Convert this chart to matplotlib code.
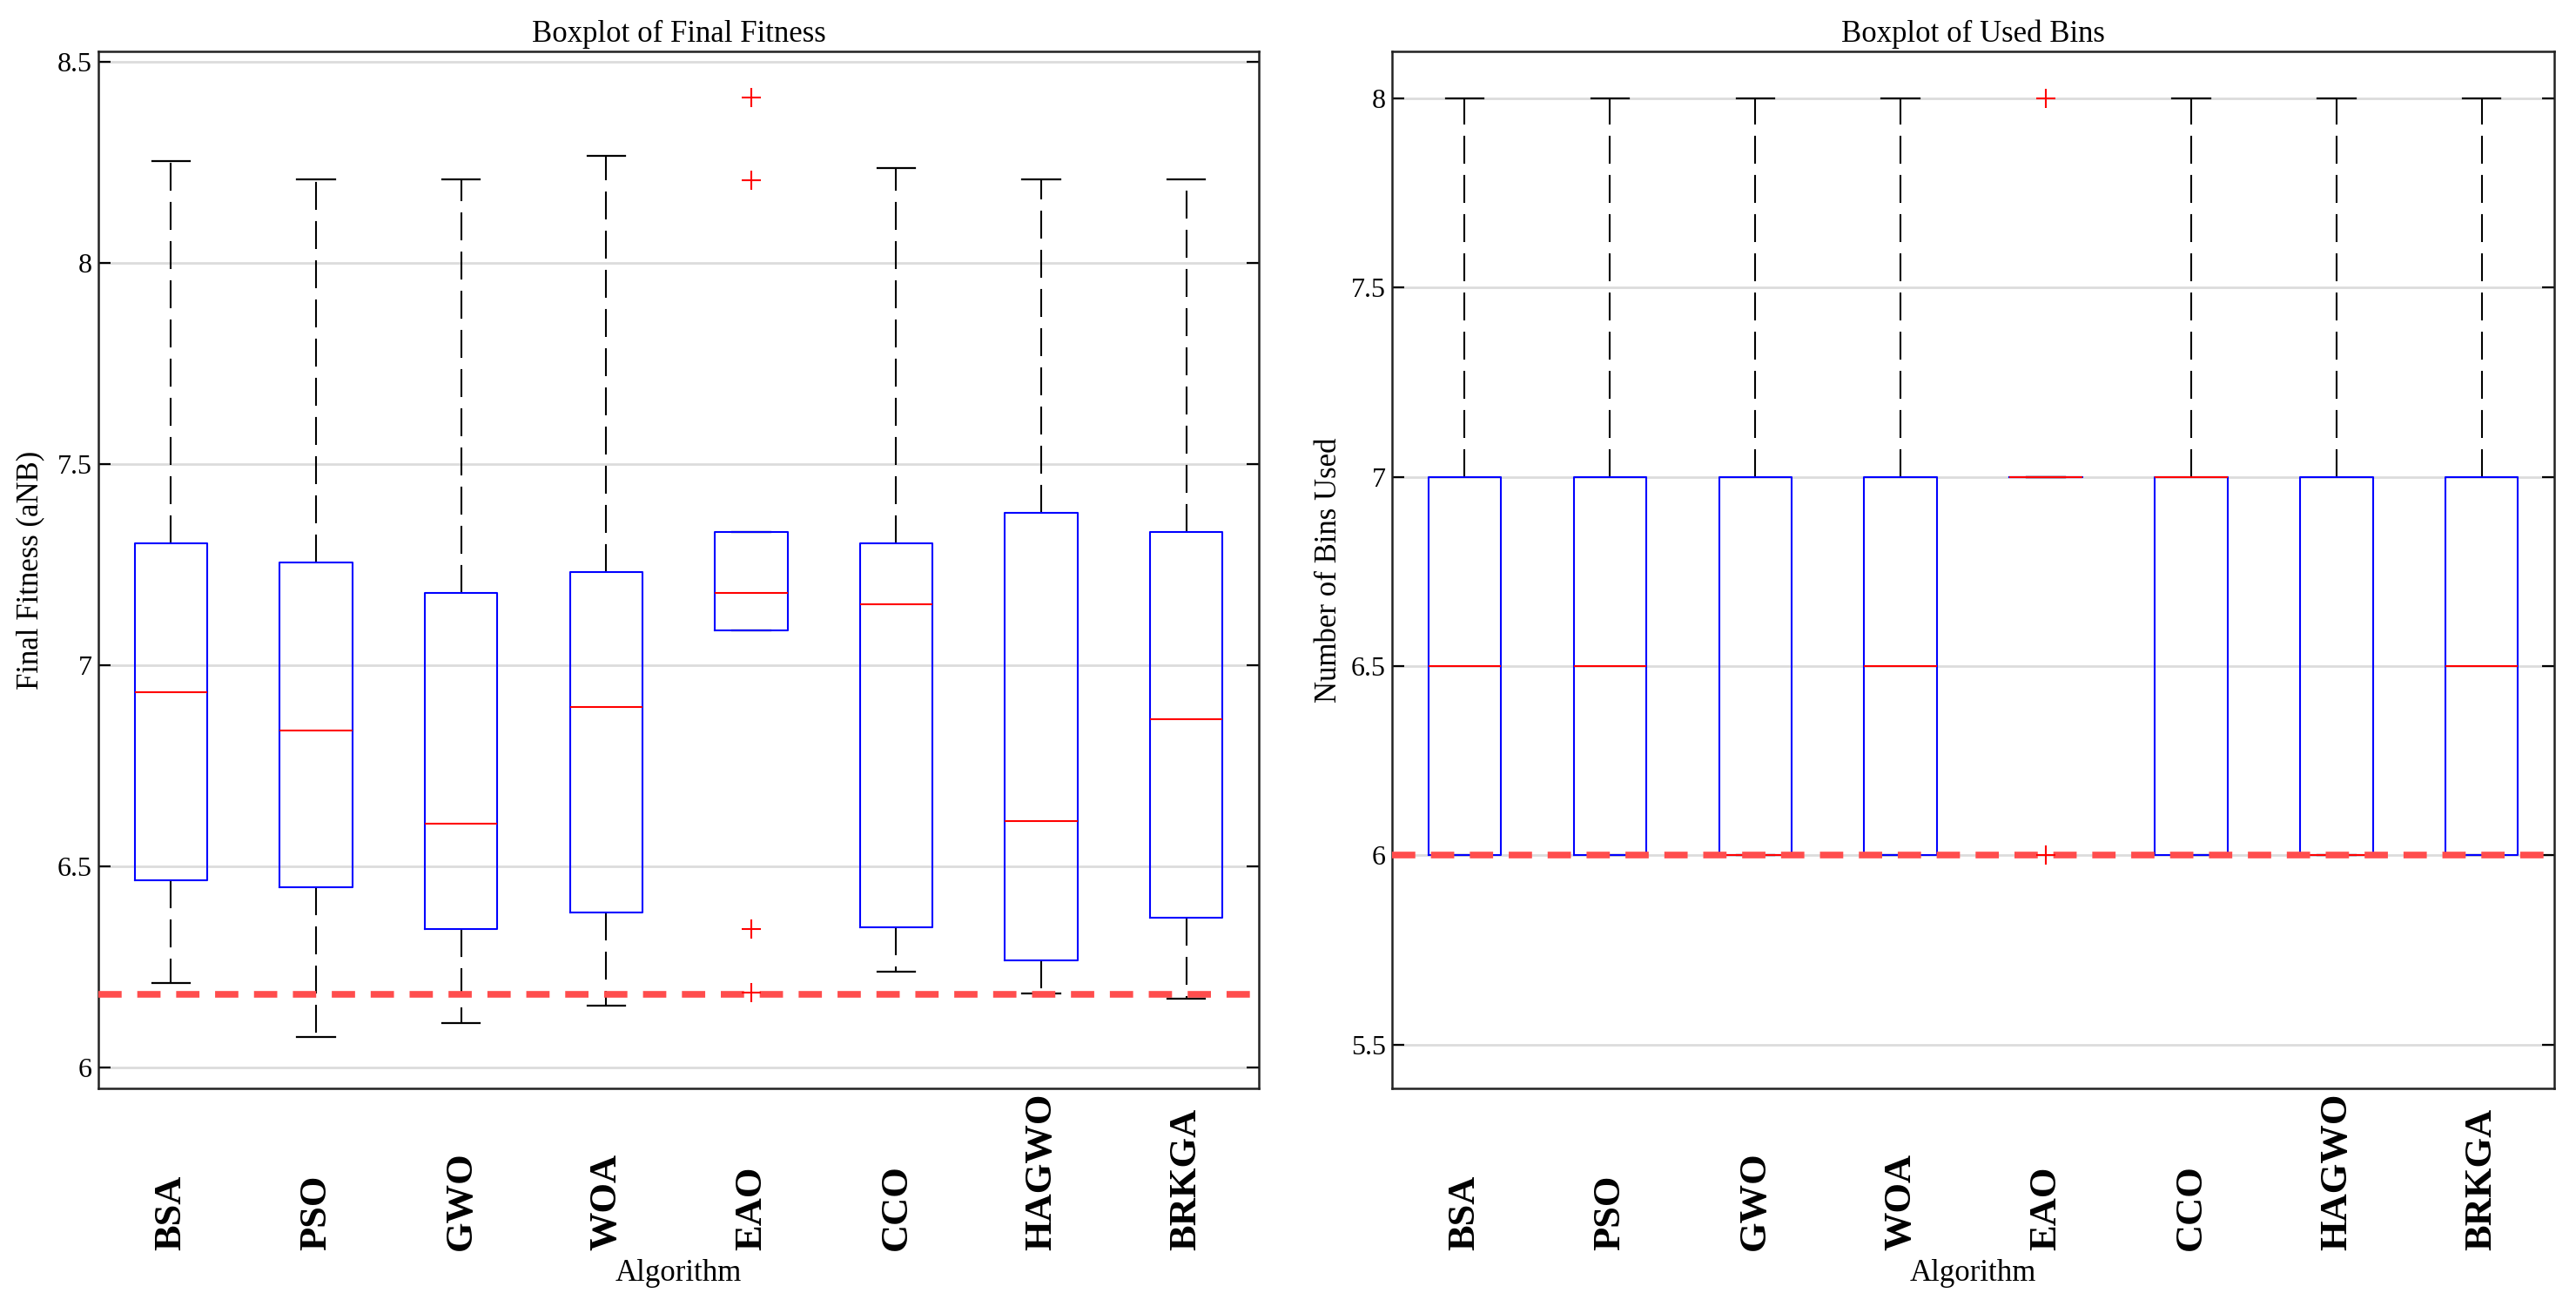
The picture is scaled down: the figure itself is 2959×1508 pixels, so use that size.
import matplotlib.pyplot as plt
from matplotlib.ticker import FixedLocator

plt.rcParams['font.family'] = ['Liberation Serif', 'DejaVu Serif']

algorithms = ['BSA', 'PSO', 'GWO', 'WOA', 'EAO', 'CCO', 'HAGWO', 'BRKGA']

# Final fitness (aNB) box statistics
fit_whislo = [6.21, 6.075, 6.11, 6.152, 7.086, 6.237, 6.183, 6.17]
fit_q1 = [6.465, 6.447, 6.343, 6.384, 7.086, 6.348, 6.265, 6.371]
fit_med = [6.932, 6.837, 6.606, 6.895, 7.18, 7.151, 6.611, 6.865]
fit_q3 = [7.302, 7.255, 7.18, 7.232, 7.331, 7.302, 7.378, 7.331]
fit_whishi = [8.255, 8.209, 8.209, 8.267, 7.331, 8.237, 8.208, 8.208]
fit_fliers = [[], [], [], [], [8.413, 8.207, 6.343, 6.186], [], [], []]
fit_ref = 6.18

# Number of bins used
bins_whislo = [6, 6, 6, 6, 7, 6, 6, 6]
bins_q1 = [6, 6, 6, 6, 7, 6, 6, 6]
bins_med = [6.5, 6.5, 6, 6.5, 7, 7, 6, 6.5]
bins_q3 = [7, 7, 7, 7, 7, 7, 7, 7]
bins_whishi = [8, 8, 8, 8, 7, 8, 8, 8]
bins_fliers = [[], [], [], [], [8, 6], [], [], []]
bins_ref = 6.0


def make_stats(lo, q1, med, q3, hi, fl):
    stats = []
    for i in range(len(algorithms)):
        stats.append({'whislo': lo[i], 'q1': q1[i], 'med': med[i],
                      'q3': q3[i], 'whishi': hi[i], 'fliers': fl[i],
                      'label': algorithms[i]})
    return stats


def draw_panel(ax, stats, ref, ylim, yticks, title, ylabel):
    ax.bxp(stats, positions=range(1, 9), widths=0.5, capwidths=0.26,
           showfliers=True,
           boxprops=dict(color='#0000ff', linewidth=1.5, zorder=3),
           whiskerprops=dict(color='black', linewidth=1.5,
                             linestyle=(0, (15.4, 6.2)), zorder=2),
           capprops=dict(color='black', linewidth=1.6, zorder=2),
           medianprops=dict(color='#ff0000', linewidth=1.5, zorder=4),
           flierprops=dict(marker='+', markeredgecolor='#ff0000',
                           markersize=16, markeredgewidth=1.5,
                           linestyle='none', zorder=6))
    ax.axhline(ref, color='#ff4d4d', linewidth=5.5,
               linestyle=(0, (3.5, 2.35)), zorder=5)
    ax.set_xlim(0.5, 8.5)
    ax.set_ylim(*ylim)
    ax.yaxis.set_major_locator(FixedLocator(yticks))
    ax.set_yticklabels([('%g' % t) for t in yticks], fontsize=23)
    ax.grid(axis='y', color='#dcdcdc', linewidth=2, zorder=0)
    ax.set_axisbelow(True)
    ax.tick_params(axis='y', direction='in', length=10, width=1.6,
                   left=True, right=True, pad=5, colors='black')
    ax.tick_params(axis='x', length=0, pad=134)
    ax.set_xticks(range(1, 9))
    ax.set_xticklabels(algorithms, rotation=90, va='bottom',
                       fontsize=32, fontweight='bold')
    for sp in ax.spines.values():
        sp.set_linewidth(1.8)
        sp.set_color('#222222')
    ax.set_title(title, fontsize=25, pad=8)
    ax.set_xlabel('Algorithm', fontsize=25)
    ax.xaxis.set_label_coords(0.5, -0.165)
    ax.set_ylabel(ylabel, fontsize=25)


fig = plt.figure(figsize=(29.59, 15.08), dpi=100)
ax1 = fig.add_axes([0.0382, 0.1711, 0.4505, 0.7898])
ax2 = fig.add_axes([0.5404, 0.1711, 0.4512, 0.7898])

draw_panel(ax1, make_stats(fit_whislo, fit_q1, fit_med, fit_q3, fit_whishi, fit_fliers),
           fit_ref, (5.947, 8.527), [6, 6.5, 7, 7.5, 8, 8.5],
           'Boxplot of Final Fitness', 'Final Fitness (aNB)')
ax1.yaxis.set_label_coords(-0.046, 0.5)

draw_panel(ax2, make_stats(bins_whislo, bins_q1, bins_med, bins_q3, bins_whishi, bins_fliers),
           bins_ref, (5.384, 8.124), [5.5, 6, 6.5, 7, 7.5, 8],
           'Boxplot of Used Bins', 'Number of Bins Used')
ax2.yaxis.set_label_coords(-0.042, 0.5)

fig.savefig('out.png', dpi=100)
